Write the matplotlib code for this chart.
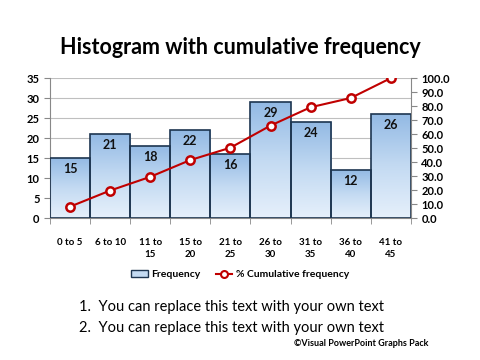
import numpy as np
import matplotlib
matplotlib.use("Agg")
import matplotlib.pyplot as plt
from matplotlib.lines import Line2D
from matplotlib.patches import Patch

categories = ["0 to 5", "6 to 10", "11 to\n15", "15 to\n20", "21 to\n25",
              "26 to\n30", "31 to\n35", "36 to\n40", "41 to\n45"]
frequency = [15, 21, 18, 22, 16, 29, 24, 12, 26]
cum_pct = [8.2, 19.7, 29.5, 41.5, 50.3, 66.1, 79.2, 85.8, 100.0]

plt.rcParams['font.family'] = ['Lato', 'DejaVu Sans']

fig = plt.figure(figsize=(4.8, 3.6), dpi=100)
ax = fig.add_axes([0.104, 0.394, 0.752, 0.389])
x = np.arange(len(categories))

bars = ax.bar(x, frequency, width=1.0, facecolor="none", edgecolor="#1d3550",
              linewidth=1.2, zorder=3)
grad = np.linspace(0, 1, 256).reshape(-1, 1)
cmap = matplotlib.colors.LinearSegmentedColormap.from_list(
    "b", ["#e6f0fb", "#c3daf2", "#92b9e4"])
for b in bars:
    im = ax.imshow(grad, cmap=cmap, aspect="auto", origin="lower",
                   extent=[b.get_x(), b.get_x() + b.get_width(), 0, b.get_height()],
                   zorder=2)
    im.set_clip_path(b)
for xi, v in zip(x, frequency):
    ax.text(xi, v - 1.3, str(v), ha="center", va="top", fontsize=9,
            fontweight="bold", color="#111111", zorder=5)

ax.set_xlim(-0.5, len(categories) - 0.5)
ax.set_ylim(0, 35)
ax.set_yticks(range(0, 36, 5))
ax.yaxis.grid(True, color="#bfbfbf", linewidth=0.8, zorder=0)
ax.set_axisbelow(True)
ax.set_xticks(x)
ax.set_xticklabels(categories, fontsize=7, fontweight="bold", linespacing=1.5)
ax.set_xticks(np.arange(-0.5, len(categories), 1), minor=True)
ax.tick_params(axis="x", which="major", length=0, pad=14)
ax.tick_params(axis="x", which="minor", length=4, color="#888888")
ax.tick_params(axis="y", labelsize=8, length=4, color="#888888")
for lbl in ax.get_yticklabels():
    lbl.set_fontweight("bold")
for s in ["top", "right"]:
    ax.spines[s].set_visible(False)
ax.spines["left"].set_color("#888888")
ax.spines["bottom"].set_color("#888888")

ax2 = ax.twinx()
ax2.plot(x, cum_pct, color="#c00000", linewidth=1.5, marker="o", markersize=6,
         markerfacecolor="white", markeredgecolor="#c00000", markeredgewidth=1.8,
         zorder=6)
ax2.set_ylim(0, 100)
ax2.set_yticks(range(0, 101, 10))
ax2.set_yticklabels([f"{v:.1f}" for v in range(0, 101, 10)], fontsize=8,
                    fontweight="bold")
ax2.tick_params(axis="y", length=4, color="#888888")
for s in ["top", "left", "bottom"]:
    ax2.spines[s].set_visible(False)
ax2.spines["right"].set_color("#888888")

fig.text(0.5, 0.868, "Histogram with cumulative frequency", ha="center",
         va="center", fontsize=15.5, fontweight="bold")

handles = [Patch(facecolor="#c3daf2", edgecolor="#1d3550"),
           Line2D([0], [0], color="#c00000", marker="o", markerfacecolor="white",
                  markeredgecolor="#c00000", markeredgewidth=1.5, markersize=5)]
leg = fig.legend(handles, ["Frequency", "% Cumulative frequency"], loc="center",
                 bbox_to_anchor=(0.5, 0.237), ncol=2, frameon=False,
                 prop={"size": 7.5, "weight": "bold"}, handlelength=1.6,
                 handletextpad=0.3, columnspacing=1.5)

fig.text(0.165, 0.146, "1.  You can replace this text with your own text",
         fontsize=10.5, va="center")
fig.text(0.165, 0.09, "2.  You can replace this text with your own text",
         fontsize=10.5, va="center")
fig.text(0.893, 0.045, "\u00a9Visual PowerPoint Graphs Pack", fontsize=6.5,
         fontweight="bold", ha="right", va="center")

fig.savefig("out.png", dpi=100)
